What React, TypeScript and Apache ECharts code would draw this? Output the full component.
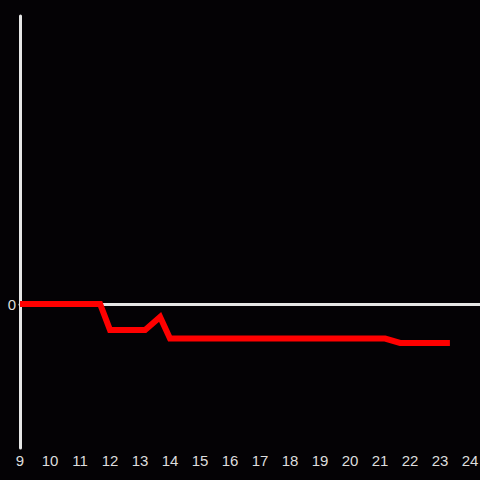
import React, { useEffect, useRef } from "react";
import * as echarts from "echarts";

const hours: number[] = [9, 11.67, 12, 13.17, 13.67, 14, 21.17, 21.67, 23.33];
const values: number[] = [0, 0, -0.18, -0.18, -0.09, -0.24, -0.24, -0.27, -0.27];
const hourTicks: number[] = [9, 10, 11, 12, 13, 14, 15, 16, 17, 18, 19, 20, 21, 22, 23, 24];
const valueTicks: number[] = [0];

export default function App() {
  const ref = useRef<HTMLDivElement>(null);
  useEffect(() => {
    if (!ref.current) return;
    const chart = echarts.init(ref.current, undefined, { renderer: "svg" });
    const font = "Liberation Sans, Arial, sans-serif";
    chart.setOption({
      animation: false,
      backgroundColor: "#040205",
      grid: { left: 20, right: 0, top: 16, bottom: 32, outerBoundsMode: "none", containLabel: false },
      xAxis: [
        {
          type: "value",
          min: 9,
          max: 24 + 1 / 3,
          position: "bottom",
          axisLine: { show: false, onZero: false },
          axisTick: { show: false },
          splitLine: { show: false },
          axisLabel: {
            color: "#dddddd",
            fontSize: 15,
            margin: 5,
            fontFamily: font,
            customValues: hourTicks,
          },
        },
        {
          type: "value",
          min: 9,
          max: 24 + 1 / 3,
          axisLine: { show: true, onZero: true, lineStyle: { color: "#e6e6e6", width: 3 } },
          axisTick: { show: false },
          splitLine: { show: false },
          axisLabel: { show: false },
        },
      ],
      yAxis: {
        type: "value",
        min: -1,
        max: 2,
        axisLine: { show: true, lineStyle: { color: "#e6e6e6", width: 3 } },
        axisTick: { show: false },
        splitLine: { show: false },
        axisLabel: {
          color: "#dddddd",
          fontSize: 15,
          margin: 4,
          fontFamily: font,
          customValues: valueTicks,
        },
      },
      series: [
        {
          type: "line",
          xAxisIndex: 0,
          data: hours.map((h, i) => [h, values[i]]),
          showSymbol: false,
          symbol: "none",
          lineStyle: { color: "#ff0000", width: 6, join: "miter" },
          z: 5,
        },
      ],
    });
    return () => chart.dispose();
  }, []);
  return (
    <div
      ref={ref}
      style={{ position: "fixed", left: 0, top: 0, width: 480, height: 480 }}
    />
  );
}
